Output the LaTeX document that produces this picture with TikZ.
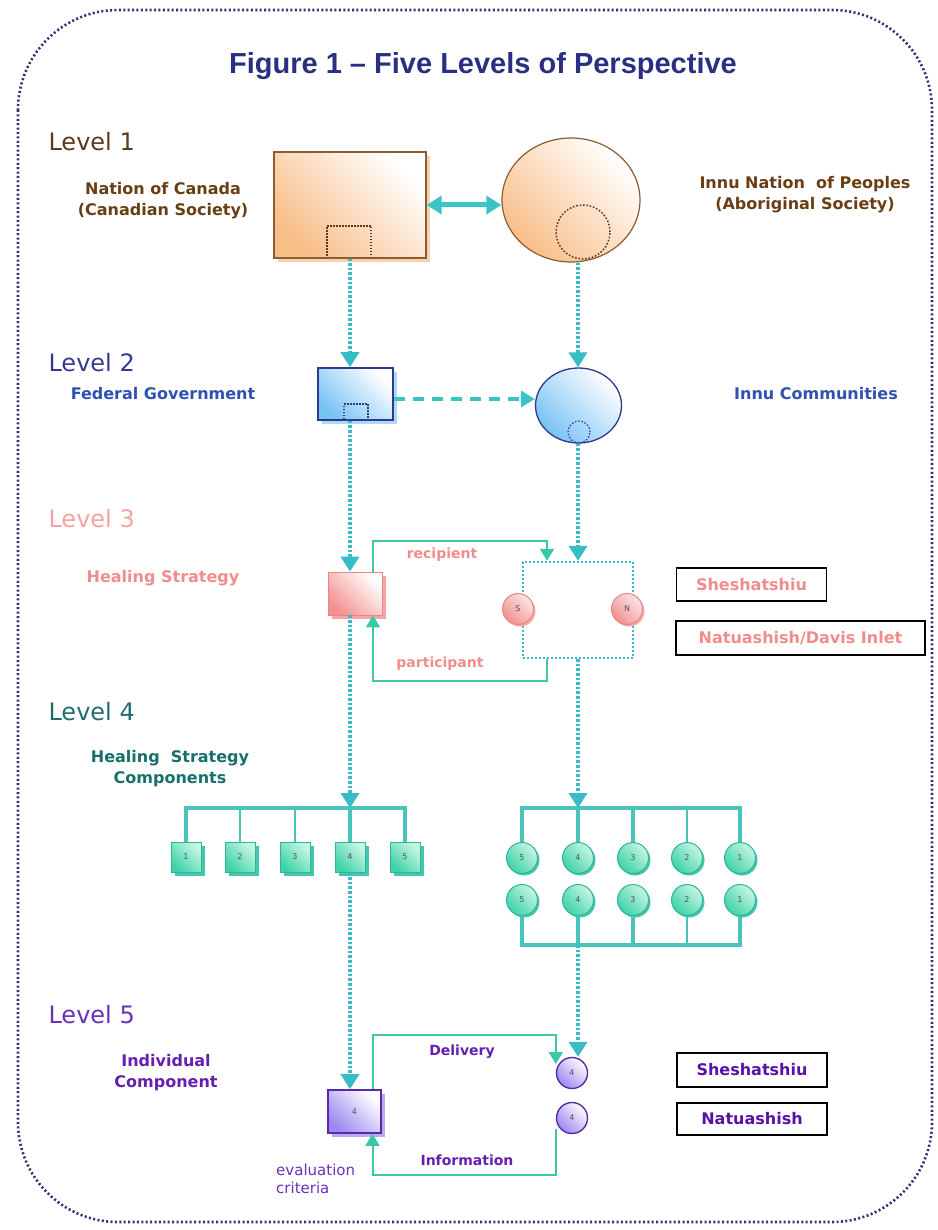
\documentclass[tikz,border=0pt]{standalone}
\usepackage{fontspec}
\setmainfont{DejaVu Sans}
\newfontfamily\titlefont{Liberation Sans}
\usetikzlibrary{arrows.meta,shapes.geometric,shadows,calc}

\definecolor{framecol}{HTML}{2E3378}
\definecolor{titlecol}{HTML}{2B2F82}
\definecolor{flowcol}{HTML}{36BDC6}
\definecolor{linkcol}{HTML}{3CC4C4}
\definecolor{loopcol}{HTML}{3CC8A4}
\definecolor{buscol}{HTML}{48C4BC}
% level one: brown / orange
\definecolor{brownA}{HTML}{5C3A1C}
\definecolor{brownB}{HTML}{6A3E14}
\definecolor{orangeF}{HTML}{F8BE88}
\definecolor{orangeS}{HTML}{F8D2AC}
\definecolor{orangeD}{HTML}{8C5C32}
% level two: blue
\definecolor{navyA}{HTML}{343C8E}
\definecolor{blueB}{HTML}{2F52B2}
\definecolor{blueF}{HTML}{78C2F4}
\definecolor{blueS}{HTML}{A9DAF7}
\definecolor{blueD}{HTML}{2E3A8A}
% level three: pink
\definecolor{pinkA}{HTML}{F4A2A2}
\definecolor{pinkB}{HTML}{F08C8C}
\definecolor{pinkF}{HTML}{F39090}
\definecolor{pinkS}{HTML}{F2A8A8}
\definecolor{pinkD}{HTML}{E98585}
% level four: teal green
\definecolor{tealA}{HTML}{1F6D6C}
\definecolor{tealB}{HTML}{18706A}
\definecolor{greenF}{HTML}{3ED2A8}
\definecolor{greenL}{HTML}{C6F6E2}
\definecolor{greenS}{HTML}{44C6AE}
\definecolor{greenD}{HTML}{2DB69A}
% level five: purple
\definecolor{purpleA}{HTML}{6C30B8}
\definecolor{purpleB}{HTML}{6520B0}
\definecolor{purpleF}{HTML}{9C88F0}
\definecolor{purpleS}{HTML}{BAAAF2}
\definecolor{purpleD}{HTML}{5A2AA6}
\definecolor{purpleT}{HTML}{5812A6}
\definecolor{digit}{HTML}{555555}

\begin{document}
\begin{tikzpicture}[x=1pt,y=-1pt,
  levellabel/.style={anchor=west,font=\fontsize{24}{28}\selectfont},
  sublabel/.style={align=center,font=\bfseries\fontsize{16}{21}\selectfont},
  looplabel/.style={font=\bfseries\fontsize{14}{17}\selectfont},
  namebox/.style={draw=black,line width=1.4pt,inner sep=0pt,font=\bfseries\fontsize{16}{19}\selectfont},
  diag/.style 2 args={bottom color=#1,top color=#2,shading angle=-45},
  panel/.style={rectangle,inner sep=0pt},
  shadowof/.style={drop shadow={shadow xshift=4pt,shadow yshift=-4pt,fill=#1,opacity=1}},
  smallshadow/.style={drop shadow={shadow xshift=2pt,shadow yshift=-2pt,fill=#1,opacity=1}},
  flow/.style={flowcol,line width=3.6pt,dash pattern=on 2.6pt off 2pt},
  flowarrow/.style={flow,-{Triangle[width=18pt,length=15pt]}},
  feedback/.style={loopcol,line width=2pt,-{Triangle[width=14pt,length=12pt]}},
  busline/.style={buscol,line width=3.2pt},
  drop/.style={buscol,line width=2.4pt},
  digitlbl/.style={font=\fontsize{8}{8}\selectfont,text=digit},
  gbox/.style={panel,minimum size=30pt,draw=greenD,line width=1pt,diag={greenF}{greenL},shadowof=greenS,digitlbl},
  gdot/.style={circle,minimum size=31pt,inner sep=0pt,draw=greenD,line width=1pt,diag={greenF}{greenL},smallshadow=greenS,digitlbl},
  pdot/.style={circle,minimum size=31pt,inner sep=0pt,draw=pinkD,line width=1pt,diag={pinkF}{pinkS!30},smallshadow=pinkS,digitlbl},
  vdot/.style={circle,minimum size=31pt,inner sep=0pt,draw=purpleD,line width=1.4pt,diag={purpleF}{white},digitlbl}
]
\useasboundingbox (0,0) rectangle (937,1230);

% dotted rounded frame
\draw[framecol,line width=2.6pt,dash pattern=on 2pt off 2.4pt,rounded corners=100pt]
  (18,10) rectangle (932,1222);

\node[font=\titlefont\bfseries\fontsize{29}{34}\selectfont,text=titlecol] (title)
  at (483,66) {Figure 1 – Five Levels of Perspective};

\coordinate (colL) at (350,0);
\coordinate (colR) at (578,0);

% ---------------- Level 1
\node[levellabel,text=brownA] (lv1) at (45,142) {Level 1};
\node[sublabel,text=brownB] (canlbl) at (163,201) {Nation of Canada\\(Canadian Society)};
\node[panel,minimum width=152pt,minimum height=106pt,draw=orangeD,line width=1.3pt,
      diag={orangeF}{white},shadowof=orangeS] (canbox) at (350,205) {};
\draw[brownA,line width=1.4pt,dash pattern=on 1.5pt off 1.5pt]
  (327,256) -- (327,226) -- (371,226) -- (371,256);
\node[ellipse,minimum width=138pt,minimum height=124pt,inner sep=0pt,draw=orangeD,
      line width=1.2pt,diag={orangeF}{white}] (innu) at (571,200) {};
\node[circle,minimum size=54pt,inner sep=0pt,draw=brownA,line width=1.5pt,
      dash pattern=on 1.6pt off 1.8pt] (innuin) at (583,232) {};
\node[sublabel,text=brownB] (innulbl) at (805,195) {Innu Nation\ \ of Peoples\\(Aboriginal Society)};
\draw[linkcol,line width=5pt,{Triangle[width=18pt,length=15pt]}-{Triangle[width=18pt,length=15pt]}]
  (canbox.east) -- (canbox.east -| innu.west);

% ---------------- Level 2
\node[levellabel,text=navyA] (lv2) at (45,363) {Level 2};
\node[sublabel,text=blueB] (fedlbl) at (163,394) {Federal Government};
\node[panel,minimum width=75pt,minimum height=52pt,draw=blueD,line width=1.6pt,
      diag={blueF}{white},shadowof=blueS] (fedbox) at (355.5,394) {};
\draw[blueD,line width=1.3pt,dash pattern=on 1.5pt off 1.5pt]
  (344,419) -- (344,404) -- (368,404) -- (368,419);
\node[ellipse,minimum width=86pt,minimum height=75pt,inner sep=0pt,draw=blueD,
      line width=1.3pt,diag={blueF}{white}] (comm) at (578.5,405.5) {};
\node[circle,minimum size=22pt,inner sep=0pt,draw=blueD,line width=1.2pt,
      dash pattern=on 1.5pt off 1.8pt] (commin) at (579,432) {};
\node[sublabel,text=blueB] (commlbl) at (816,394) {Innu Communities};
\draw[flowarrow] (colL |- canbox.south) -- (colL |- fedbox.north);
\draw[flowarrow] (colR |- innu.south) -- (colR |- comm.north);
\draw[linkcol,line width=4pt,dash pattern=on 11pt off 8pt,-{Triangle[width=16pt,length=14pt]}]
  ([yshift=-5pt]fedbox.east) -- ([yshift=-5pt]fedbox.east -| comm.west);

% ---------------- Level 3
\node[levellabel,text=pinkA] (lv3) at (45,519) {Level 3};
\node[sublabel,text=pinkB] (hslbl) at (163,578) {Healing Strategy};
\node[panel,minimum width=54pt,minimum height=43pt,draw=pinkD,line width=0.8pt,
      diag={pinkF}{white},shadowof=pinkS] (hsbox) at (355,593.5) {};
\node[draw=flowcol,line width=2.4pt,dash pattern=on 2pt off 2pt,minimum width=110pt,
      minimum height=96pt,inner sep=0pt] (grp) at (578,610) {};
\node[pdot] (s3) at (518,609) {S};
\node[pdot] (n3) at (627,609) {N};
\draw[flowarrow] (colL |- fedbox.south) -- (colL |- hsbox.north);
\draw[flowarrow] (colR |- comm.south) -- (colR |- grp.north);
\draw[feedback] ([xshift=18pt]hsbox.north) -- ++(0,-31) -| ([xshift=-31pt]grp.north);
\node[looplabel,text=pinkB] (reclbl) at (442,555) {recipient};
\draw[feedback] ([xshift=-31pt]grp.south) -- ++(0,22) -| ([xshift=18pt]hsbox.south);
\node[looplabel,text=pinkB] (parlbl) at (440,664) {participant};
\node[namebox,text=pinkB,minimum width=150pt,minimum height=33pt] (sh3) at (751.5,584.5) {Sheshatshiu};
\node[namebox,text=pinkB,minimum width=249pt,minimum height=34pt] (na3) at (800.5,638) {Natuashish/Davis Inlet};

% ---------------- Level 4
\node[levellabel,text=tealA] (lv4) at (45,712) {Level 4};
\node[sublabel,text=tealB] (hsclbl) at (170,769) {Healing\ \ Strategy\\Components};
\coordinate (lbus) at (296,808);
\coordinate (rbus) at (630,808);
\coordinate (rbusb) at (630,945);
\foreach \i/\x in {1/186,2/240,3/295,4/350,5/405}
  \node[gbox] (b\i) at (\x,857) {\i};
\draw[busline] (b1.north) -- (b1.north |- lbus) -- (b5.north |- lbus) -- (b5.north);
\foreach \i in {2,3}
  \draw[drop] (b\i.north) -- (b\i.north |- lbus);
\draw[busline] (b4.north) -- (b4.north |- lbus);
\draw[flowarrow] (colL |- hsbox.south) -- (colL |- lbus);

\foreach \i/\x/\n in {1/522/5,2/578/4,3/633/3,4/687/2,5/740/1}{
  \node[gdot] (t\i) at (\x,858) {\n};
  \node[gdot] (u\i) at (\x,900) {\n};
}
\draw[busline] (t1.north) -- (t1.north |- rbus) -- (t5.north |- rbus) -- (t5.north);
\draw[busline] (u1.south) -- (u1.south |- rbusb) -- (u5.south |- rbusb) -- (u5.south);
\foreach \i in {2,3}{
  \draw[busline] (t\i.north) -- (t\i.north |- rbus);
  \draw[busline] (u\i.south) -- (u\i.south |- rbusb);
}
\draw[drop] (t4.north) -- (t4.north |- rbus);
\draw[drop] (u4.south) -- (u4.south |- rbusb);
\draw[flowarrow] (colR |- grp.south) -- (colR |- rbus);

% ---------------- Level 5
\node[levellabel,text=purpleA] (lv5) at (45,1015) {Level 5};
\node[sublabel,text=purpleB] (iclbl) at (166,1073) {Individual\\Component};
\node[panel,minimum width=53pt,minimum height=43pt,draw=purpleD,line width=1.6pt,
      diag={purpleF}{white},shadowof=purpleS,digitlbl] (icbox) at (354.5,1111.5) {4};
\node[vdot] (c51) at (572,1073) {4};
\node[vdot] (c52) at (572,1118) {4};
\draw[flowarrow] (colL |- b4.south) -- (colL |- icbox.north);
\draw[flowarrow] (colR |- rbusb) -- (colR |- c51.north);
\draw[feedback] ([xshift=18pt]icbox.north) -- ++(0,-54) -| ([yshift=9pt]c51.west);
\node[looplabel,text=purpleB] (dellbl) at (462,1052) {Delivery};
\draw[feedback] ([yshift=-11pt]c52.west) -- ++(0,46) -| ([xshift=18pt]icbox.south);
\node[looplabel,text=purpleB] (inflbl) at (467,1160) {Information};
\node[anchor=north west,align=left,inner sep=0pt,font=\fontsize{15}{18}\selectfont,text=purpleA]
  (evallbl) at (276,1164) {evaluation\\criteria};
\node[namebox,text=purpleT,minimum width=150pt,minimum height=34pt] (sh5) at (752,1070) {Sheshatshiu};
\node[namebox,text=purpleT,minimum width=150pt,minimum height=32pt] (na5) at (752,1119) {Natuashish};
\end{tikzpicture}
\end{document}
